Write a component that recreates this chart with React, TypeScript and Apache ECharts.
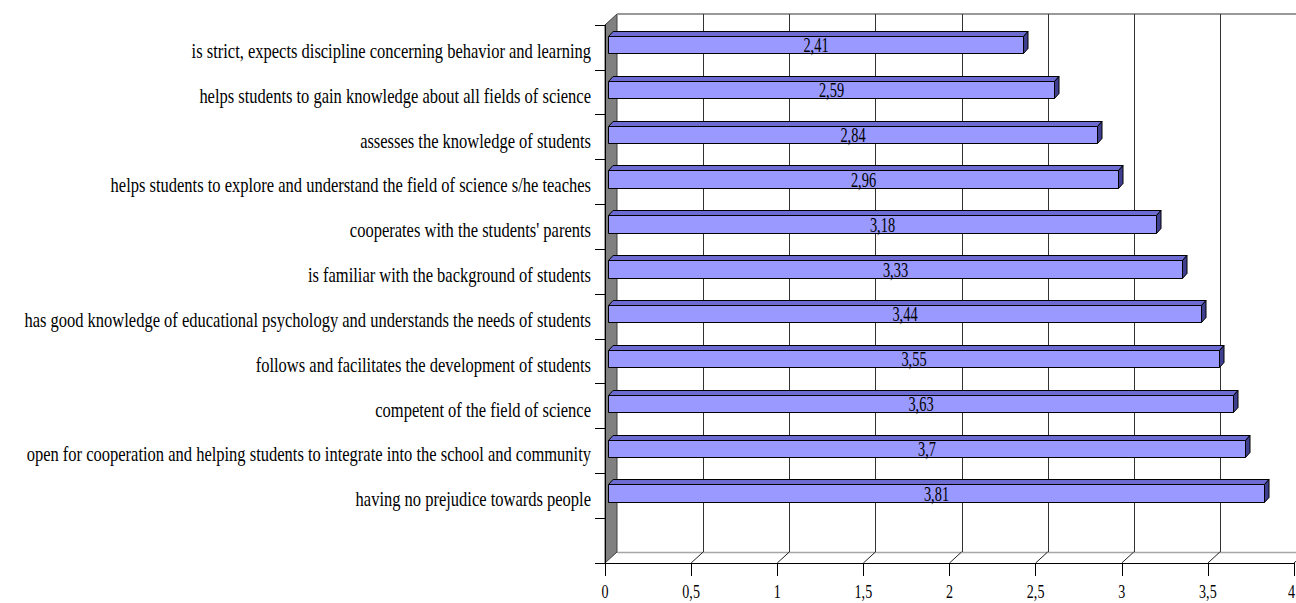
import React, { useEffect, useRef } from "react";
import * as echarts from "echarts";

// Statements about the teacher, top to bottom, with their mean ratings
const categories = [
  "is strict, expects discipline concerning behavior and learning",
  "helps students to gain knowledge about all fields of science",
  "assesses the knowledge of students",
  "helps students to explore and understand the field of science s/he teaches",
  "cooperates with the students' parents",
  "is familiar with the background of students",
  "has good knowledge of educational psychology and understands the needs of students",
  "follows and facilitates the development of students",
  "competent of the field of science",
  "open for cooperation and helping students to integrate into the school and community",
  "having no prejudice towards people",
];
const values = [2.41, 2.59, 2.84, 2.96, 3.18, 3.33, 3.44, 3.55, 3.63, 3.7, 3.81];

// Value axis ticks
const xTicks = [0, 0.5, 1, 1.5, 2, 2.5, 3, 3.5, 4];

// One trailing empty slot keeps free space between the last bar and the floor
const axisSlots = [...categories, ""];

const FONT = "Liberation Serif";
const FRONT = "#9999ff";
const TOP = "#6b6bd1";
const SIDE = "#3f3f8f";
const WALL_DX = 12;
const WALL_DY = 11;
const BAR_DX = 4.5;
const BAR_DY = 5;

const comma = (v: number) => String(v).replace(".", ",");
const crisp = (v: number) => Math.round(v) + 0.5;

function renderWall(params: any) {
  const cs = params.coordSys;
  const left = cs.x;
  const top = cs.y;
  const bottom = cs.y + cs.height;
  const right = cs.x + cs.width;
  return {
    type: "group",
    children: [
      {
        type: "polygon",
        shape: {
          points: [
            [left, top],
            [left + WALL_DX, top - WALL_DY],
            [left + WALL_DX, bottom - WALL_DY],
            [left, bottom],
          ],
        },
        style: { fill: "#808080", stroke: "#404040", lineWidth: 1 },
      },
      {
        type: "line",
        shape: { x1: left + WALL_DX, y1: top - WALL_DY, x2: right + 40, y2: top - WALL_DY },
        style: { stroke: "#999999", lineWidth: 2 },
      },
      {
        type: "line",
        shape: { x1: left + WALL_DX, y1: crisp(bottom - WALL_DY), x2: right + 40, y2: crisp(bottom - WALL_DY) },
        style: { stroke: "#a6a6a6", lineWidth: 1.5 },
      },
    ],
  };
}

function renderTick(params: any, api: any) {
  const cs = params.coordSys;
  const v = api.value(0);
  const top = cs.y;
  const bottom = cs.y + cs.height;
  const x = api.coord([v, 0])[0];
  // keep the last label inside the canvas edge
  const labelX = Math.min(x, cs.x + cs.width - 2.5);
  const children: any[] = [
    {
      type: "text",
      x: labelX,
      y: bottom + 29,
      scaleX: 0.74,
      style: {
        text: comma(v),
        fontSize: 19,
        fontFamily: FONT,
        fill: "#000",
        align: "center",
        verticalAlign: "middle",
      },
    },
  ];
  if (v > 0) {
    const bx = crisp(x + WALL_DX);
    children.push(
      {
        type: "line",
        shape: { x1: bx, y1: top - WALL_DY, x2: bx, y2: bottom - WALL_DY },
        style: { stroke: "#333333", lineWidth: 1 },
      },
      {
        type: "line",
        shape: { x1: x, y1: bottom, x2: x + WALL_DX, y2: bottom - WALL_DY },
        style: { stroke: "#222222", lineWidth: 1 },
      }
    );
  }
  return { type: "group", children };
}

function renderBar(params: any, api: any) {
  const v = api.value(0);
  const idx = api.value(1);
  const p0 = api.coord([0, idx]);
  const p1 = api.coord([v, idx]);
  const band = api.size([0, 1])[1];
  const top = p0[1] - band / 2;
  const x0 = Math.round(p0[0] + 3) + 0.5;
  const x1 = Math.round(p1[0] + 3) + 0.5;
  const yt = Math.round(top + 11) + 0.5;
  const yb = Math.round(top + 28.5) + 0.5;
  const edge = { stroke: "#000", lineWidth: 1, lineJoin: "miter" };
  return {
    type: "group",
    children: [
      {
        type: "polygon",
        shape: { points: [[x0, yt], [x0 + BAR_DX, yt - BAR_DY], [x1 + BAR_DX, yt - BAR_DY], [x1, yt]] },
        style: { fill: TOP, ...edge },
      },
      {
        type: "polygon",
        shape: { points: [[x1, yt], [x1 + BAR_DX, yt - BAR_DY], [x1 + BAR_DX, yb - BAR_DY], [x1, yb]] },
        style: { fill: SIDE, ...edge },
      },
      {
        type: "rect",
        shape: { x: x0, y: yt, width: x1 - x0, height: yb - yt },
        style: { fill: FRONT, ...edge },
      },
      {
        type: "text",
        x: (x0 + x1) / 2,
        y: top + 20.5,
        scaleX: 0.72,
        style: {
          text: comma(v),
          fontSize: 20,
          fontFamily: FONT,
          fill: "#000",
          align: "center",
          verticalAlign: "middle",
        },
      },
      {
        type: "text",
        x: p0[0] - 14,
        y: top + 25.5,
        scaleX: 0.75,
        style: {
          text: axisSlots[idx],
          fontSize: 22,
          fontFamily: FONT,
          fill: "#000",
          align: "right",
          verticalAlign: "middle",
        },
      },
    ],
  };
}

export default function App() {
  const ref = useRef<HTMLDivElement>(null);

  useEffect(() => {
    if (!ref.current) return;
    const chart = echarts.init(ref.current, null, { renderer: "svg" });
    chart.setOption({
      animation: false,
      backgroundColor: "#ffffff",
      grid: { left: 605, top: 25, width: 689, height: 538 },
      xAxis: {
        type: "value",
        min: 0,
        max: 4,
        interval: 0.5,
        z: 5,
        axisLine: { show: true, lineStyle: { color: "#000", width: 1 } },
        axisTick: { show: true, length: 13, lineStyle: { color: "#000" } },
        axisLabel: { show: false },
        splitLine: { show: false },
      },
      yAxis: {
        type: "category",
        data: axisSlots,
        inverse: true,
        z: 5,
        axisLine: { show: true, lineStyle: { color: "#000", width: 1 } },
        axisTick: { show: true, length: 10, interval: 0, lineStyle: { color: "#000" } },
        axisLabel: { show: false, interval: 0 },
        splitLine: { show: false },
      },
      series: [
        {
          type: "custom",
          name: "wall",
          z: 1,
          silent: true,
          renderItem: renderWall,
          data: [[0, 0]],
        },
        {
          type: "custom",
          name: "ticks",
          z: 1,
          silent: true,
          renderItem: renderTick,
          data: xTicks.map((t) => [t, 0]),
        },
        {
          type: "custom",
          name: "rating",
          z: 3,
          renderItem: renderBar,
          data: values.map((v, i) => [v, i]),
        },
      ],
    });
    return () => chart.dispose();
  }, []);

  return (
    <div
      ref={ref}
      style={{ position: "absolute", left: 0, top: 0, width: 1296, height: 603, background: "#fff" }}
    />
  );
}
